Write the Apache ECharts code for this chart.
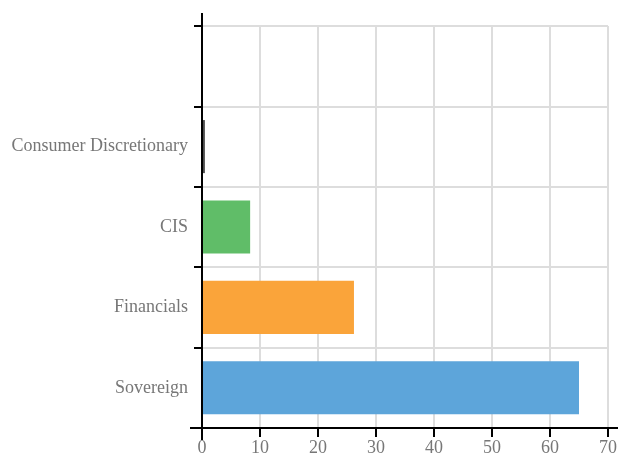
<!DOCTYPE html>
<html>
<head>
<meta charset="utf-8">
<script src="https://cdn.jsdelivr.net/npm/echarts@6/dist/echarts.min.js"></script>
<style>html,body{margin:0;padding:0;background:#fff}#c{width:618px;height:458px}</style>
</head>
<body>
<div id="c"></div>
<script>
const categories = ['Sovereign', 'Financials', 'CIS', 'Consumer Discretionary', ''];
const values = [65.0, 26.2, 8.3, 0.5, null];
const colors = ['#5da5da', '#faa43a', '#60bd68', '#4d4d4d', '#4d4d4d'];
const xTicks = [0, 10, 20, 30, 40, 50, 60, 70];

const chart = echarts.init(document.getElementById('c'));
const font = '"Liberation Serif", "DejaVu Serif", serif';
chart.setOption({
  animation: false,
  grid: { left: 202, right: 10, top: 26, bottom: 30, containLabel: false, outerBoundsMode: 'none' },
  xAxis: {
    type: 'value', min: xTicks[0], max: xTicks[xTicks.length - 1], interval: 10,
    axisLine: { show: true, lineStyle: { color: '#000', width: 2 } },
    axisTick: { show: true, length: 9, lineStyle: { color: '#000', width: 2 } },
    axisLabel: { color: '#777', fontFamily: font, fontSize: 18, margin: 11 },
    splitLine: { show: true, lineStyle: { color: '#ddd', width: 2 } }
  },
  yAxis: {
    type: 'category', data: categories,
    axisLine: { show: true, lineStyle: { color: '#000', width: 2 } },
    axisTick: { show: true, length: 8, lineStyle: { color: '#000', width: 2 } },
    axisLabel: { color: '#777', fontFamily: font, fontSize: 18, margin: 14 },
    splitLine: { show: true, interval: 0, lineStyle: { color: '#ddd', width: 2 } }
  },
  series: [{
    type: 'bar',
    barCategoryGap: '34%',
    data: values.map((v, i) => ({ value: v, itemStyle: { color: colors[i] } }))
  }]
});

// extend the axis lines slightly beyond the plot area as in the reference
const g = chart.getModel().getComponent('grid').coordinateSystem.getRect();
chart.setOption({
  graphic: [
    { type: 'line', shape: { x1: g.x, y1: g.y - 13, x2: g.x, y2: g.y + g.height + 12 }, style: { stroke: '#000', lineWidth: 2 }, z: 10 },
    { type: 'line', shape: { x1: g.x - 12, y1: g.y + g.height, x2: g.x + g.width + 10, y2: g.y + g.height }, style: { stroke: '#000', lineWidth: 2 }, z: 10 }
  ]
});
</script>
</body>
</html>
